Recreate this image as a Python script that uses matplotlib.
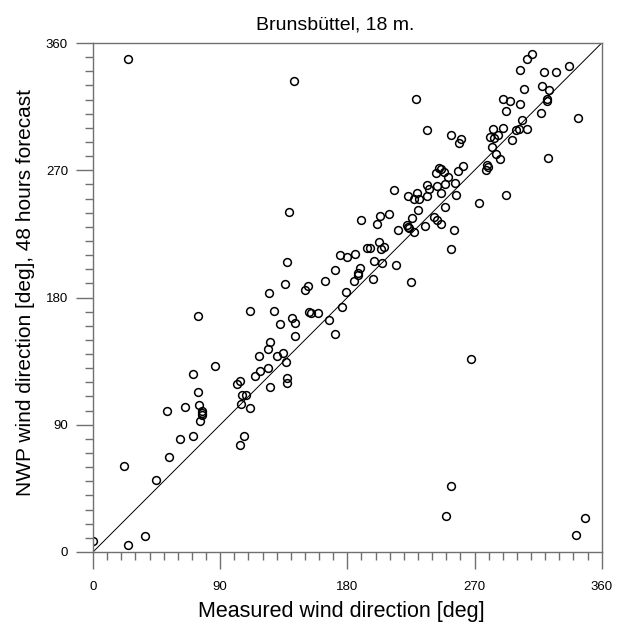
import numpy as np
from matplotlib import pyplot as plt
from matplotlib.ticker import MultipleLocator

plt.rcParams['font.family'] = ['Liberation Sans', 'DejaVu Sans']

# measured wind direction [deg]
measured = [
    0, 25, 36.8, 22.2, 44.8, 54, 61.6, 70.5, 52.4, 65.3,
    75.7, 77.1, 77.4, 76.9, 75, 74.1, 70.8, 86.1, 74.5, 104,
    106.9, 105, 105.2, 108.1, 111.1, 102.1, 104.2, 114.9, 118.2, 125,
    124, 117.3, 124, 125.3, 130.2, 134.3, 136.4, 137.1, 137.1, 132.1,
    143.2, 141, 143.2, 111.1, 128.1, 124.8, 135.9, 149.8, 152.2, 153.1,
    154, 159, 167, 171.3, 176, 179, 164, 184.5, 197.9, 225.3,
    267.3, 253.1, 250.1, 348.2, 342, 25, 142, 139, 137, 174.8,
    180, 185.2, 171.3, 189.2, 187.8, 187.3, 199.1, 204.7, 214.4, 194.1,
    196, 202.2, 203.6, 206, 189.9, 203.1, 209.3, 201.2, 225.5, 222.4,
    223.4, 222.9, 216.1, 227.4, 235.2, 241.5, 243.7, 246.1, 255.3, 253.4,
    230, 249.1, 273.4, 292.3, 223.2, 229.3, 227.4, 231, 236.2, 213.2,
    246.3, 257.1, 236.6, 238, 243.2, 249.1, 256, 251.2, 244.9, 246.3,
    243, 248.4, 258.6, 262.1, 278.6, 279.3, 278.1, 282.2, 285.2, 287.8,
    322.2, 253.4, 260.4, 259.3, 281, 283.8, 286.4, 296.3, 282.9, 290.2,
    299.4, 301.5, 307.4, 236.2, 303.4, 343.2, 292, 316.8, 290.2, 295.1,
    302.2, 321.3, 321.5, 305, 318, 322.5, 228.4, 302.2, 319.2, 327.5,
    337.1, 307.4, 310.5,
]

# NWP wind direction, 48 hours forecast [deg]
forecast = [
    7.6, 4.7, 11.6, 60.7, 51, 67.2, 79.8, 82.1, 99.6, 102.6,
    92.3, 96.7, 98.4, 99.8, 104.3, 113.2, 125.8, 131.4, 167, 76,
    82.1, 104.7, 110.9, 110.9, 102.2, 118.7, 120.8, 124.6, 127.9, 117,
    130.2, 138.3, 143.7, 148.2, 138.5, 140.6, 134.5, 123.4, 119.2, 161.1,
    152.6, 165.6, 162, 170.3, 170.8, 183.3, 189.7, 185.2, 188, 169.6,
    169, 168.7, 163.8, 154.3, 173, 183.6, 191.4, 192, 193, 191.1,
    136.2, 46.7, 25.8, 24.3, 12.3, 348.5, 333.3, 240.4, 204.8, 210,
    208.8, 210.5, 199.6, 201, 197.5, 195.8, 206, 204.1, 202.7, 215.2,
    215.2, 219, 214.4, 215.4, 234.6, 237.6, 239.2, 232.1, 236.4, 231.2,
    229.3, 230, 227.9, 226.5, 230.7, 236.6, 235, 231.9, 227.7, 214.4,
    241.8, 243.8, 247, 252.2, 251.7, 254.1, 249.6, 249.6, 252, 256,
    253.9, 252.4, 259.3, 256.7, 258.6, 260.4, 261.2, 265.4, 271.8, 270.6,
    268.2, 268.7, 269.2, 273.2, 273.7, 272.2, 270, 286.2, 281.2, 278.1,
    278.8, 294.7, 292.1, 289, 293.7, 292.6, 294.9, 291.4, 298.9, 299.8,
    298.4, 298.9, 299.1, 298.2, 305.5, 306.9, 311.9, 310.7, 320.2, 318.8,
    316.9, 320.2, 319.2, 327.3, 329.6, 326.5, 320.6, 340.9, 339.3, 339.3,
    344, 348.5, 352,
]

ticks = [0, 90, 180, 270, 360]
grey = '#707070'

fig = plt.figure(figsize=(6.25, 6.26), dpi=100)
ax = fig.add_axes([93 / 625, 1 - 552 / 626, 508.7 / 625, 509 / 626])

ax.plot([0, 360], [0, 360], color='black', lw=0.7)
ax.plot(measured, forecast, 'o', ms=5.6, mfc='none', mec='black', mew=1.1)

ax.set_xlim(0, 360)
ax.set_ylim(0, 360)
ax.set_xticks(ticks)
ax.set_yticks(ticks)
ax.xaxis.set_minor_locator(MultipleLocator(10))
ax.yaxis.set_minor_locator(MultipleLocator(10))
ax.tick_params(which='major', length=12, width=1.0, color=grey, labelsize=9.5)
ax.tick_params(which='minor', length=6, width=1.0, color=grey)
ax.tick_params(axis='x', which='major', pad=9)
ax.tick_params(axis='y', which='major', pad=6)
for sp in ax.spines.values():
    sp.set_color(grey)
    sp.set_linewidth(1.0)

ax.set_title('Brunsbüttel, 18 m.', fontsize=14, pad=10, x=0.476)
ax.set_xlabel('Measured wind direction [deg]', fontsize=15.5, labelpad=6, x=0.4875)
ax.set_ylabel('NWP wind direction [deg], 48 hours forecast', fontsize=15, labelpad=8, y=0.51)

fig.savefig('out.png', dpi=100)
